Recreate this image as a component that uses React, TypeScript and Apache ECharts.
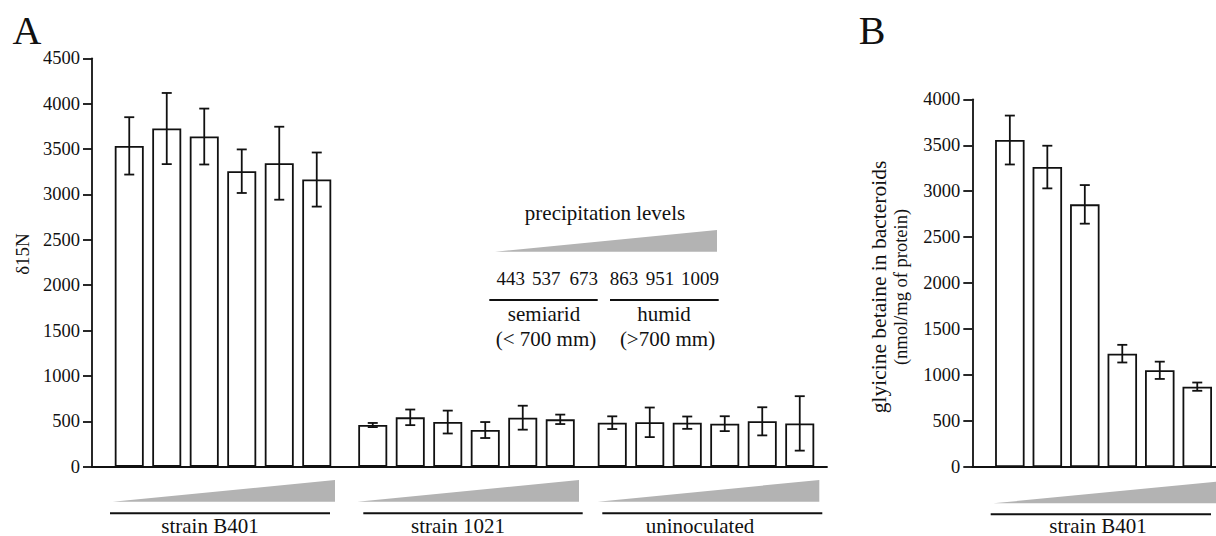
import React, { useEffect, useRef } from "react";
import * as echarts from "echarts";

// ---- data ----
const precipitationLevels = ["443", "537", "673", "863", "951", "1009"];
const groupLabelsA = ["strain B401", "strain 1021", "uninoculated"];
const d15N_B401 = [3535, 3726, 3638, 3256, 3344, 3164];
const d15N_B401_err = [316, 392, 308, 240, 402, 298];
const d15N_1021 = [459, 544, 492, 404, 540, 522];
const d15N_1021_err = [23, 86, 126, 88, 132, 52];
const d15N_uninoc = [485, 489, 485, 474, 500, 477];
const d15N_uninoc_err = [70, 163, 68, 82, 155, 300];
const betaine_B401 = [3557, 3263, 2857, 1233, 1052, 874];
const betaine_B401_err = [266, 232, 210, 96, 94, 45];
const yTicksA = { min: 0, max: 4500, interval: 500 };
const yTicksB = { min: 0, max: 4000, interval: 500 };

const FONT = "'Liberation Serif', 'Times New Roman', serif";
const INK = "#111";
const GRAY = "#b3b3b3";

function errData(vals: number[], errs: number[]) {
  return vals.map((v, i) => [i, v - errs[i], v + errs[i]]);
}

const errorRender = (cap: number) => (params: any, api: any) => {
  const x = api.value(0);
  const lo = api.coord([x, api.value(1)]);
  const hi = api.coord([x, api.value(2)]);
  const st = { stroke: INK, lineWidth: 1.8 };
  return {
    type: "group",
    children: [
      { type: "line", shape: { x1: lo[0], y1: lo[1], x2: hi[0], y2: hi[1] }, style: st },
      { type: "line", shape: { x1: lo[0] - cap, y1: lo[1], x2: lo[0] + cap, y2: lo[1] }, style: st },
      { type: "line", shape: { x1: hi[0] - cap, y1: hi[1], x2: hi[0] + cap, y2: hi[1] }, style: st },
    ],
  };
};

export default function App() {
  const ref = useRef<HTMLDivElement>(null);
  useEffect(() => {
    if (!ref.current) return;
    const chart = echarts.init(ref.current, null, { renderer: "svg" });

    const topA = 58.3, botA = 466.7;
    const topB = 99.3, botB = 467;
    const grids = [
      { left: 92, top: topA, width: 735, height: botA - topA },
      { left: 110.5, top: topA, width: 225, height: botA - topA },
      { left: 354, top: topA, width: 225, height: botA - topA },
      { left: 593.5, top: topA, width: 225, height: botA - topA },
      { left: 972.3, top: topB, width: 244, height: botB - topB },
      { left: 991.1, top: topB, width: 227.2, height: botB - topB },
    ];

    const frameX = (gi: number) => ({
      type: "value", gridIndex: gi, min: 0, max: 1,
      axisLine: { show: true, onZero: false, lineStyle: { color: INK, width: 1.8 } },
      axisTick: { show: false }, axisLabel: { show: false }, splitLine: { show: false },
    });
    const frameY = (gi: number, t: any) => ({
      type: "value", gridIndex: gi, min: t.min, max: t.max, interval: t.interval,
      axisLine: { show: true, lineStyle: { color: INK, width: 1.8 } },
      axisTick: { show: true, inside: false, length: 9, lineStyle: { color: INK, width: 1.8 } },
      axisLabel: {
        show: true, margin: 12, color: INK, fontFamily: FONT, fontSize: 18.5,
        formatter: (v: number) => String(v),
      },
      splitLine: { show: false },
    });
    const barX = (gi: number) => ({
      type: "category", gridIndex: gi, data: precipitationLevels, boundaryGap: true, show: false,
    });
    const barY = (gi: number, t: any) => ({
      type: "value", gridIndex: gi, min: t.min, max: t.max, interval: t.interval, show: false,
      splitLine: { show: false },
    });

    const barSeries = (idx: number, vals: number[], w: number) => ({
      type: "bar", xAxisIndex: idx, yAxisIndex: idx, data: vals, barWidth: w,
      itemStyle: { color: "#fff", borderColor: INK, borderWidth: 1.8 }, z: 2,
    });
    const errSeries = (idx: number, vals: number[], errs: number[], cap: number) => ({
      type: "custom", xAxisIndex: idx, yAxisIndex: idx, data: errData(vals, errs),
      renderItem: errorRender(cap), encode: { x: 0, y: [1, 2] }, z: 5, silent: true,
    });

    const txt = (x: number, y: number, text: string, size: number, extra: any = {}) => ({
      type: "text", x, y, silent: true,
      style: { text, fill: INK, font: `${size}px ${FONT}`, align: "center", verticalAlign: "middle", ...extra },
    });
    const hline = (x1: number, x2: number, y: number) => ({
      type: "line", silent: true, shape: { x1, y1: y, x2, y2: y }, style: { stroke: INK, lineWidth: 2 },
    });
    const wedge = (x1: number, x2: number, yTop: number, yBot: number) => ({
      type: "polygon", silent: true,
      shape: { points: [[x1, yBot], [x2, yTop], [x2, yBot]] }, style: { fill: GRAY },
    });

    const graphics: any[] = [
      txt(27, 30, "A", 40),
      txt(872, 30, "B", 40),
      { ...txt(22, 254, "δ15N", 19), rotation: Math.PI / 2 },
      { ...txt(879, 287, "glyicine betaine in bacteroids", 21.5), rotation: Math.PI / 2 },
      { ...txt(901, 287, "(nmol/mg of protein)", 18.5), rotation: Math.PI / 2 },
      wedge(112.7, 335, 480, 501.7),
      wedge(357.3, 579, 480, 501.7),
      wedge(597.7, 819.3, 480, 501.7),
      hline(110, 330, 513.3),
      hline(363.3, 582.7, 513.3),
      hline(602.3, 822.3, 513.3),
      txt(210, 536, groupLabelsA[0], 21, { verticalAlign: "bottom" }),
      txt(458, 536, groupLabelsA[1], 21, { verticalAlign: "bottom" }),
      txt(700, 536, groupLabelsA[2], 21, { verticalAlign: "bottom" }),
      wedge(993.3, 1216, 481.7, 503.3),
      hline(990.7, 1211, 514.3),
      txt(1098, 536, "strain B401", 21, { verticalAlign: "bottom" }),
      txt(605, 213, "precipitation levels", 21),
      wedge(495, 717, 230, 251.7),
      txt(510.8, 278, precipitationLevels[0], 19),
      txt(546.3, 278, precipitationLevels[1], 19),
      txt(583.8, 278, precipitationLevels[2], 19),
      txt(624, 278, precipitationLevels[3], 19),
      txt(660, 278, precipitationLevels[4], 19),
      txt(700, 278, precipitationLevels[5], 19),
      hline(489.3, 597.7, 300),
      hline(610, 718.7, 300),
      txt(544, 314, "semiarid", 21),
      txt(664, 314, "humid", 21),
      txt(546, 339, "(< 700 mm)", 21),
      txt(667.5, 339, "(>700 mm)", 21),
    ];

    chart.setOption({
      animation: false,
      backgroundColor: "#fff",
      grid: grids,
      xAxis: [frameX(0), barX(1), barX(2), barX(3), frameX(4), barX(5)],
      yAxis: [frameY(0, yTicksA), barY(1, yTicksA), barY(2, yTicksA), barY(3, yTicksA), frameY(4, yTicksB), barY(5, yTicksB)],
      series: [
        barSeries(1, d15N_B401, 29),
        barSeries(2, d15N_1021, 29),
        barSeries(3, d15N_uninoc, 29),
        barSeries(5, betaine_B401, 29.5),
        errSeries(1, d15N_B401, d15N_B401_err, 5),
        errSeries(2, d15N_1021, d15N_1021_err, 5),
        errSeries(3, d15N_uninoc, d15N_uninoc_err, 5),
        errSeries(5, betaine_B401, betaine_B401_err, 5),
      ],
      graphic: graphics,
    });
    return () => chart.dispose();
  }, []);
  return (
    <div
      ref={ref}
      style={{ width: 1216, height: 536, position: "absolute", left: 0, top: 0, background: "#fff" }}
    />
  );
}
